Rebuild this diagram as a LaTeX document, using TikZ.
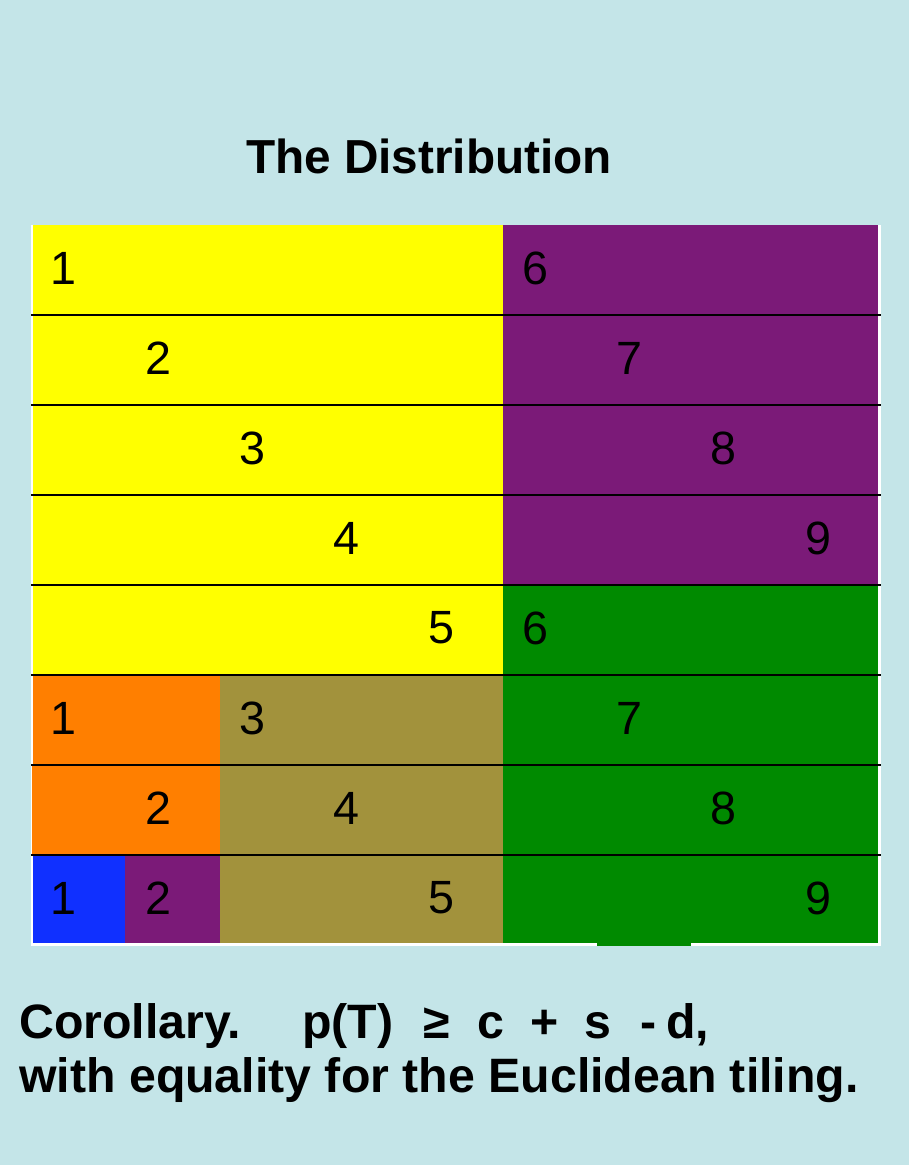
\documentclass[tikz,border=0pt]{standalone}
\usepackage{fontspec}
\setmainfont{Liberation Sans}
\definecolor{bgcyan}{RGB}{196,229,232}
\definecolor{tyellow}{RGB}{255,255,0}
\definecolor{tpurple}{RGB}{123,26,120}
\definecolor{tgreen}{RGB}{0,138,0}
\definecolor{torange}{RGB}{255,127,0}
\definecolor{tolive}{RGB}{162,146,60}
\definecolor{tblue}{RGB}{16,48,255}
\tikzset{
  digit/.style={inner sep=0pt, font=\fontsize{35}{35}\selectfont},
  rowline/.style={black, line width=1.5pt},
  title/.style={inner sep=0pt, anchor=base, font=\fontsize{35.8}{40}\selectfont\bfseries},
  formula/.style={inner sep=0pt, anchor=base west, font=\fontsize{36.2}{40}\selectfont\bfseries},
}
\begin{document}
\begin{tikzpicture}[x=0.75pt, y=-0.75pt]
  % page background
  \fill[bgcyan] (0,0) rectangle (909,1165);
  \useasboundingbox (0,0) rectangle (909,1165);

  \node[title] (title) at (429,173) {The Distribution};

  % white frame behind the tiling
  \fill[white] (31,225) rectangle (881,946);

  % upper block: yellow left, purple/green right
  \fill[tyellow] (33,225) rectangle (503,675);
  \fill[tpurple] (503,225) rectangle (878,585);
  \fill[tgreen]  (503,585) rectangle (878,943);
  \fill[tgreen]  (597,943) rectangle (691,946);
  % lower left block
  \fill[torange] (33,675) rectangle (220,765);
  \fill[torange] (32,765) rectangle (220,855);
  \fill[tolive]  (220,675) rectangle (503,943);
  \fill[tblue]   (33,855) rectangle (125,943);
  \fill[tpurple] (125,855) rectangle (220,943);

  % row separators
  \foreach \yy in {315,405,495,585,675,765,855}
    \draw[rowline] (31,\yy) -- (881,\yy);

  % labels: column k sits at x = 63 + 94.4(k-1), rows every 90px
  \node[digit] (r1a) at (63,268)   {1};
  \node[digit] (r1b) at (535,268)  {6};
  \node[digit] (r2a) at (158,358)  {2};
  \node[digit] (r2b) at (629,358)  {7};
  \node[digit] (r3a) at (252,448)  {3};
  \node[digit] (r3b) at (723,448)  {8};
  \node[digit] (r4a) at (346,538)  {4};
  \node[digit] (r4b) at (818,538)  {9};
  \node[digit] (r5a) at (441,628)  {5};
  \node[digit] (r5b) at (535,628)  {6};
  \node[digit] (r6a) at (63,718)   {1};
  \node[digit] (r6b) at (252,718)  {3};
  \node[digit] (r6c) at (629,718)  {7};
  \node[digit] (r7a) at (158,808)  {2};
  \node[digit] (r7b) at (346,808)  {4};
  \node[digit] (r7c) at (723,808)  {8};
  \node[digit] (r8a) at (63,898)   {1};
  \node[digit] (r8b) at (158,898)  {2};
  \node[digit] (r8c) at (441,898)  {5};
  \node[digit] (r8d) at (818,898)  {9};

  % corollary
  \node[formula] (cor)  at (19,1038)  {Corollary.};
  \node[formula] (pT)   at (302,1038) {p(T)};
  \node[formula] (geq)  at (423,1038) {≥};
  \node[formula] (c)    at (477,1038) {c};
  \node[formula] (plus) at (530,1038) {+};
  \node[formula] (s)    at (584,1038) {s};
  \node[formula] (minus) at (640,1038) {-};
  \node[formula] (d)    at (666,1038) {d,};
  \node[formula] (line2) at (19,1092) {with equality for the Euclidean tiling.};
\end{tikzpicture}
\end{document}
